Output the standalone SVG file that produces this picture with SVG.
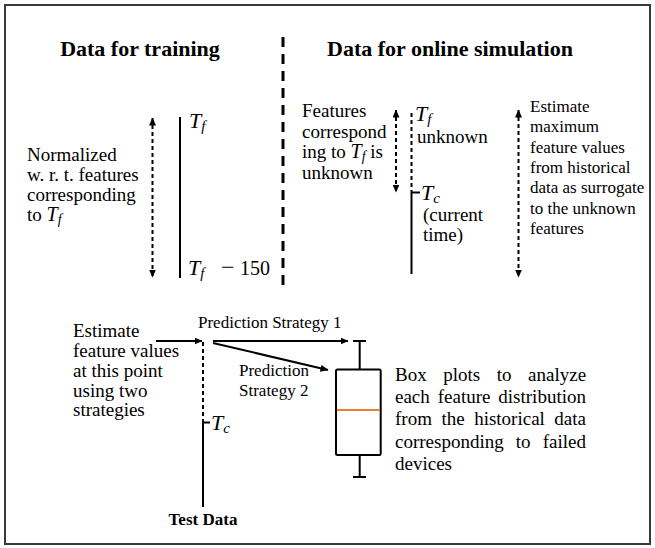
<svg xmlns="http://www.w3.org/2000/svg" width="655" height="548" viewBox="0 0 655 548">
<defs>
<marker id="ah" viewBox="0 0 8 7" refX="7.5" refY="3.5" markerWidth="8" markerHeight="7" markerUnits="userSpaceOnUse" orient="auto-start-reverse">
<path d="M0,0 L8,3.5 L0,7 z" fill="#000"/>
</marker>
</defs>
<style>
.t19{font-size:19px}
.t17{font-size:17px}
.h{font-size:22px;font-weight:bold}
.hb{font-size:17px;font-weight:bold}
.m{font-size:22px;font-style:italic}
.sub{font-size:15px}
.solid{stroke:#000;stroke-width:2;fill:none}
.dash{stroke:#000;stroke-width:2;fill:none;stroke-dasharray:4 3}
.darr{stroke:#000;stroke-width:2;fill:none;stroke-dasharray:4 3;marker-start:url(#ah);marker-end:url(#ah)}
.arr{stroke:#000;stroke-width:2;fill:none;marker-end:url(#ah)}
</style>
<rect x="5" y="5" width="645" height="539" fill="#fff" stroke="#3a3a3a" stroke-width="2"/>

<g font-family="'Liberation Serif', 'DejaVu Serif', 'Times New Roman', serif" fill="#000">
<g id="headers">
<text class="h" x="140" y="56" text-anchor="middle">Data for training</text>
<text class="h" x="450" y="56" text-anchor="middle">Data for online simulation</text>
</g>

<g id="training">
<text class="t19" x="27" y="161">Normalized</text>
<text class="t19" x="27" y="181">w. r. t. features</text>
<text class="t19" x="27" y="201">corresponding</text>
<text class="t19" x="27" y="221">to <tspan class="m" style="font-size:20px">T</tspan><tspan class="m sub" style="font-size:14px" dy="3">f</tspan></text>
<text x="189" y="128"><tspan class="m">T</tspan><tspan class="m sub" dy="3">f</tspan></text>
<text x="188" y="275"><tspan class="m">T</tspan><tspan class="m sub" dy="3">f</tspan><tspan x="221" dy="-3" style="font-size:24px">−</tspan><tspan x="240" style="font-size:20px">150</tspan></text>
</g>

<g id="online">
<text class="t19" x="302" y="117">Features</text>
<text class="t19" x="302" y="138">correspond</text>
<text class="t19" x="302" y="158">ing to <tspan class="m" style="font-size:20px">T</tspan><tspan class="m sub" style="font-size:14px" dy="3">f</tspan><tspan dy="-3"> is</tspan></text>
<text class="t19" x="302" y="179">unknown</text>
<text x="415" y="121"><tspan class="m">T</tspan><tspan class="m sub" dy="3">f</tspan></text>
<text class="t19" x="417" y="143">unknown</text>
<text x="421" y="200"><tspan class="m">T</tspan><tspan class="m sub" dy="3">c</tspan></text>
<text class="t19" x="423" y="221">(current</text>
<text class="t19" x="423" y="241">time)</text>
<text class="t17" x="530" y="112">Estimate</text>
<text class="t17" x="530" y="132">maximum</text>
<text class="t17" x="530" y="152.5">feature values</text>
<text class="t17" x="530" y="173">from historical</text>
<text class="t17" x="530" y="193">data as surrogate</text>
<text class="t17" x="530" y="213.5">to the unknown</text>
<text class="t17" x="530" y="234">features</text>
</g>

<g id="test">
<text class="t19" x="73" y="337">Estimate</text>
<text class="t19" x="73" y="357">feature values</text>
<text class="t19" x="73" y="376.5">at this point</text>
<text class="t19" x="73" y="396.5">using two</text>
<text class="t19" x="73" y="416">strategies</text>
<text x="211" y="430"><tspan class="m">T</tspan><tspan class="m sub" dy="3">c</tspan></text>
<text class="hb" x="203" y="525" text-anchor="middle">Test Data</text>
<text class="t17" x="198" y="328">Prediction Strategy 1</text>
<text class="t17" x="239" y="376">Prediction</text>
<text class="t17" x="239" y="396">Strategy 2</text>
</g>

<g id="boxtext">
<text class="t19" x="395" y="381" word-spacing="11.8">Box plots to analyze</text>
<text class="t19" x="395" y="403" word-spacing="3.15">each feature distribution</text>
<text class="t19" x="395" y="425" word-spacing="4.75">from the historical data</text>
<text class="t19" x="395" y="447.5" word-spacing="7.4">corresponding to failed</text>
<text class="t19" x="395" y="470">devices</text>
</g>
</g>

<g id="divider">
<line x1="283" y1="37" x2="283" y2="289" stroke="#000" stroke-width="3" stroke-dasharray="10 7"/>
</g>

<g id="timelines">
<line class="solid" x1="180" y1="117" x2="180" y2="278"/>
<line class="dash" x1="411.5" y1="113" x2="411.5" y2="192"/>
<line class="solid" x1="411.5" y1="192.5" x2="420" y2="192.5"/>
<line class="solid" x1="411.5" y1="192" x2="411.5" y2="274"/>
<line class="dash" x1="203" y1="342" x2="203" y2="422"/>
<line class="solid" x1="203" y1="422.5" x2="210" y2="422.5"/>
<line class="solid" x1="203" y1="422" x2="203" y2="507"/>
</g>

<g id="boxplot">
<line class="solid" x1="353" y1="341" x2="366" y2="341"/>
<line class="solid" x1="359.7" y1="341" x2="359.7" y2="369.5"/>
<rect x="336" y="369.5" width="44.7" height="85.5" rx="1.5" fill="none" stroke="#000" stroke-width="2"/>
<line x1="337" y1="410" x2="379.7" y2="410" stroke="#ED7D31" stroke-width="2"/>
<line class="solid" x1="359.7" y1="455" x2="359.7" y2="477"/>
<line class="solid" x1="353" y1="477" x2="366" y2="477"/>
</g>

<g id="connectors">
<line class="darr" x1="152.5" y1="118" x2="152.5" y2="277"/>
<line class="darr" x1="396" y1="110" x2="396" y2="192"/>
<line class="darr" x1="518.5" y1="110" x2="518.5" y2="277"/>
<line class="arr" x1="156" y1="341" x2="202" y2="341"/>
<line class="arr" x1="213" y1="341" x2="348" y2="341"/>
<line class="arr" x1="213" y1="343" x2="328" y2="370"/>
</g>
</svg>
